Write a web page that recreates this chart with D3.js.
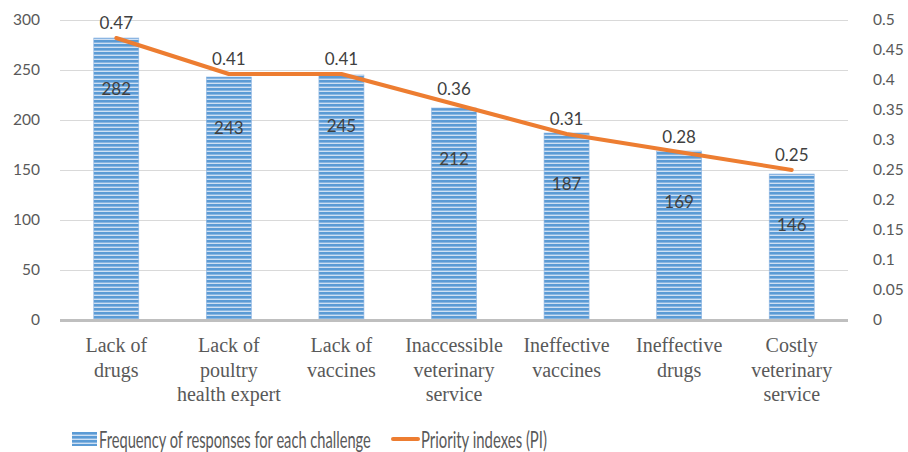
<!DOCTYPE html>
<html><head><meta charset="utf-8">
<script src="https://cdn.jsdelivr.net/npm/d3@7"></script>
<style>body{margin:0;background:#fff}svg{display:block}</style>
</head><body><svg id="c" width="908" height="452"></svg>
<script>
const categories = [["Lack of","drugs"],["Lack of","poultry","health expert"],["Lack of","vaccines"],["Inaccessible","veterinary","service"],["Ineffective","vaccines"],["Ineffective","drugs"],["Costly","veterinary","service"]];
const frequency = [282,243,245,212,187,169,146];
const priority = [0.47,0.41,0.41,0.36,0.31,0.28,0.25];
const leftTicks = [0,50,100,150,200,250,300];
const rightTicks = [0,0.05,0.1,0.15,0.2,0.25,0.3,0.35,0.4,0.45,0.5];
const legendLabels = ["Frequency of responses for each challenge","Priority indexes (PI)"];

const svg = d3.select("#c");
const L=60,R=848,T=20,B=320;
const x = d3.scaleBand().domain(d3.range(categories.length)).range([L,R]).paddingInner(0.6).paddingOuter(0.3);
const xc = i => x(i)+x.bandwidth()/2;
const yL = d3.scaleLinear().domain([0,300]).range([B,T]);
const yR = d3.scaleLinear().domain([0,0.5]).range([B,T]);

const defs = svg.append("defs");
const pat = defs.append("pattern").attr("id","stripes").attr("patternUnits","userSpaceOnUse").attr("width",8).attr("height",4);
pat.append("rect").attr("width",8).attr("height",4).attr("fill","#5b9bd5");
pat.append("rect").attr("y",2.6).attr("width",8).attr("height",1.4).attr("fill","#cfe0f3");

svg.append("g").selectAll("line").data(leftTicks.filter(d=>d>0)).join("line")
  .attr("x1",L).attr("x2",R).attr("y1",d=>yL(d)+0.5).attr("y2",d=>yL(d)+0.5)
  .attr("stroke","#d9d9d9").attr("stroke-width",1);

const fnt = "Lato, 'Open Sans', sans-serif";
const gl = svg.append("g").attr("transform",`translate(${L},0)`).call(d3.axisLeft(yL).tickValues(leftTicks).tickSize(0).tickPadding(20));
gl.select(".domain").remove();
gl.selectAll("text").attr("font-family",fnt).attr("font-size",15.5).attr("fill","#595959");
const gr = svg.append("g").attr("transform",`translate(${R},0)`).call(d3.axisRight(yR).tickValues(rightTicks).tickFormat(d3.format("")).tickSize(0).tickPadding(25));
gr.select(".domain").remove();
gr.selectAll("text").attr("font-family",fnt).attr("font-size",15.5).attr("fill","#595959");

svg.append("g").selectAll("rect").data(frequency).join("rect")
  .attr("x",(d,i)=>x(i)).attr("width",x.bandwidth())
  .attr("y",d=>yL(d)).attr("height",d=>B-yL(d))
  .attr("fill","url(#stripes)").attr("stroke","#8fb6e3").attr("stroke-width",0.6);

svg.append("line").attr("x1",L).attr("x2",R).attr("y1",B+0.5).attr("y2",B+0.5).attr("stroke","#bfbfbf").attr("stroke-width",3);

const line = d3.line().x((d,i)=>xc(i)).y(d=>yR(d));
svg.append("path").datum(priority).attr("d",line).attr("fill","none").attr("stroke","#ed7d31").attr("stroke-width",4).attr("stroke-linecap","round").attr("stroke-linejoin","round");

svg.append("g").selectAll("text").data(frequency).join("text")
  .attr("x",(d,i)=>xc(i)).attr("y",d=>yL(d)+57).attr("text-anchor","middle")
  .attr("font-family",fnt).attr("font-size",17).attr("fill","#404040").text(d=>d);
svg.append("g").selectAll("text").data(priority).join("text")
  .attr("x",(d,i)=>xc(i)).attr("y",d=>yR(d)-9).attr("text-anchor","middle")
  .attr("font-family",fnt).attr("font-size",17).attr("fill","#404040").text(d=>d);

const xl = svg.append("g").selectAll("text").data(categories).join("text")
  .attr("x",(d,i)=>xc(i)).attr("y",352).attr("text-anchor","middle")
  .attr("font-family","'Liberation Serif', serif").attr("font-size",20).attr("fill","#595959");
xl.selectAll("tspan").data(d=>d).join("tspan").attr("x",function(){return this.parentNode.getAttribute("x");})
  .attr("dy",(d,i)=>i?24.5:0).text(d=>d);

const lg = svg.append("g");
function fitText(x0, w, label){
  const t = lg.append("text").attr("x",0).attr("y",0).attr("font-family",fnt).attr("font-size",24).attr("fill","#595959").text(label);
  const nat = t.node().getComputedTextLength();
  t.attr("transform",`translate(${x0},448) scale(${w/nat},1)`);
}
lg.append("rect").attr("x",72).attr("y",432).attr("width",25).attr("height",14).attr("fill","url(#stripes)");
fitText(99, 272, legendLabels[0]);
lg.append("line").attr("x1",393).attr("x2",418).attr("y1",439).attr("y2",439).attr("stroke","#ed7d31").attr("stroke-width",4).attr("stroke-linecap","round");
fitText(421, 126, legendLabels[1]);
</script></body></html>
